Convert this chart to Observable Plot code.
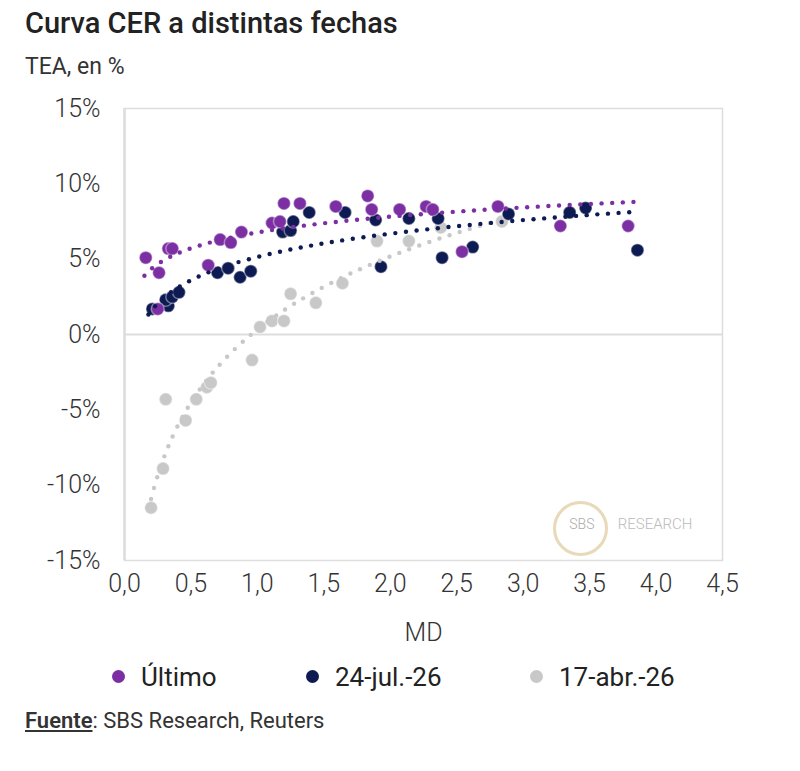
<!DOCTYPE html>
<html><head><meta charset="utf-8">
<script src="https://cdn.jsdelivr.net/npm/d3@7"></script>
<script src="https://cdn.jsdelivr.net/npm/@observablehq/plot@0.6"></script>
<style>
body{margin:0;background:#fff;font-family:Roboto,"Noto Sans",sans-serif;color:#222}
#t{position:absolute;left:25px;top:6px;font-size:29px;font-weight:500;color:#222}
#s{position:absolute;left:25px;top:53px;font-size:23px;color:#333}
#c{position:absolute;left:0;top:95px}
#lg{position:absolute;top:662px;left:0;width:800px;font-size:26px;color:#222}
#lg span{position:absolute;white-space:nowrap}
#lg i{display:inline-block;width:13px;height:13px;border-radius:50%;margin-right:16px;vertical-align:middle;position:relative;top:-3px}
#f{position:absolute;left:25px;top:708px;font-size:22px;color:#333}
svg text{font-weight:300}
</style></head><body>
<div id="t">Curva CER a distintas fechas</div>
<div id="s">TEA, en %</div>
<div id="c"></div>
<div id="lg">
<span style="left:112px"><i style="background:#7b2fa3"></i>Último</span>
<span style="left:306px"><i style="background:#0d1b52"></i>24-jul.-26</span>
<span style="left:530px"><i style="background:#c8c8c8"></i>17-abr.-26</span>
</div>
<div id="f"><b style="font-weight:600"><u>Fuente</u></b>: SBS Research, Reuters</div>
<script>
const ultimoX=[0.16,0.26,0.33,0.36,0.25,0.63,0.72,0.8,0.88,1.11,1.17,1.2,1.32,1.59,1.83,1.86,2.07,2.27,2.32,2.54,2.81,3.28,3.79];
const ultimoY=[5.1,4.1,5.7,5.7,1.7,4.6,6.3,6.1,6.8,7.4,7.5,8.7,8.7,8.5,9.2,8.3,8.3,8.5,8.3,5.5,8.5,7.2,7.2];
const julX=[0.21,0.33,0.31,0.36,0.41,0.7,0.78,0.87,0.95,1.19,1.25,1.27,1.39,1.66,1.89,1.93,2.14,2.36,2.39,2.62,2.89,3.35,3.47,3.86];
const julY=[1.7,1.9,2.3,2.5,2.8,4.1,4.4,3.8,4.2,6.8,6.9,7.5,8.1,8.1,7.6,4.5,7.7,7.7,5.1,5.8,8.0,8.1,8.4,5.6];
const abrX=[0.2,0.29,0.31,0.46,0.54,0.62,0.65,0.96,1.02,1.11,1.2,1.25,1.44,1.64,1.9,2.14,2.38,2.84];
const abrY=[-11.5,-8.9,-4.3,-5.7,-4.3,-3.5,-3.2,-1.7,0.5,0.9,0.9,2.7,2.1,3.4,6.2,6.2,7.1,7.5];
const xTicks=[0,0.5,1,1.5,2,2.5,3,3.5,4,4.5];
const yTicks=[-15,-10,-5,0,5,10,15];
const series=[
 {name:"17-abr.-26",x:abrX,y:abrY,color:"#c8c8c8",x0:0.18,x1:2.9},
 {name:"24-jul.-26",x:julX,y:julY,color:"#0d1b52",x0:0.18,x1:3.85},
 {name:"Último",x:ultimoX,y:ultimoY,color:"#7b2fa3",x0:0.15,x1:3.85}
];
const pts=[],trend=[];
const PX=133,PY=15,STEP=10.5; // approximate px per unit, for even dot spacing
for(const s of series){
  s.x.forEach((x,i)=>pts.push({x,y:s.y[i],c:s.color,n:s.name}));
  const lx=s.x.map(Math.log);
  const mx=d3.mean(lx),my=d3.mean(s.y);
  const b=d3.sum(lx.map((v,i)=>(v-mx)*(s.y[i]-my)))/d3.sum(lx.map(v=>(v-mx)**2));
  const a=my-b*mx;
  const f=x=>a+b*Math.log(x);
  let px=s.x0,py=f(px),acc=0;
  trend.push({x:px,y:py,c:s.color});
  for(let x=s.x0;x<=s.x1;x+=0.002){
    const y=f(x);acc+=Math.hypot((x-px)*PX,(y-py)*PY);px=x;py=y;
    if(acc>=STEP){trend.push({x,y,c:s.color});acc=0;}
  }
}
const chart=Plot.plot({
  width:800,height:555,marginLeft:124,marginRight:78,marginTop:13,marginBottom:90,
  style:{fontFamily:"Roboto, sans-serif",fontSize:"25px",color:"#333"},
  x:{domain:[0,4.5],ticks:xTicks,tickFormat:d=>d.toFixed(1).replace(".",","),tickSize:0,tickPadding:14,label:"MD",labelAnchor:"center",labelArrow:false,labelOffset:80},
  y:{domain:[-15,15],ticks:yTicks,tickFormat:d=>d+"%",tickSize:0,tickPadding:24,label:null},
  marks:[
    Plot.frame({stroke:"#ddd",strokeWidth:1.5}),
    Plot.ruleY([0],{stroke:"#ddd",strokeWidth:2}),
    Plot.ruleX([0],{stroke:"#ddd",strokeWidth:2.5}),
    Plot.text(["SBS"],{frameAnchor:"bottom-right",dx:-128,dy:-32,fill:"#aaa",fontSize:14,fontWeight:"bold"}),
    Plot.dot([0],{frameAnchor:"bottom-right",dx:-142,dy:-32,r:26,stroke:"#e8d9b8",strokeWidth:3,fill:"none"}),
    Plot.text(["RESEARCH"],{frameAnchor:"bottom-right",dx:-30,dy:-32,fill:"#bbb",fontSize:15}),
    Plot.dot(pts,{x:"x",y:"y",fill:"c",r:6.5,stroke:"#fff",strokeOpacity:0.4}),
    Plot.dot(trend,{x:"x",y:"y",fill:"c",r:2.2})
  ]
});
document.getElementById("c").appendChild(chart);
</script>
</body></html>
